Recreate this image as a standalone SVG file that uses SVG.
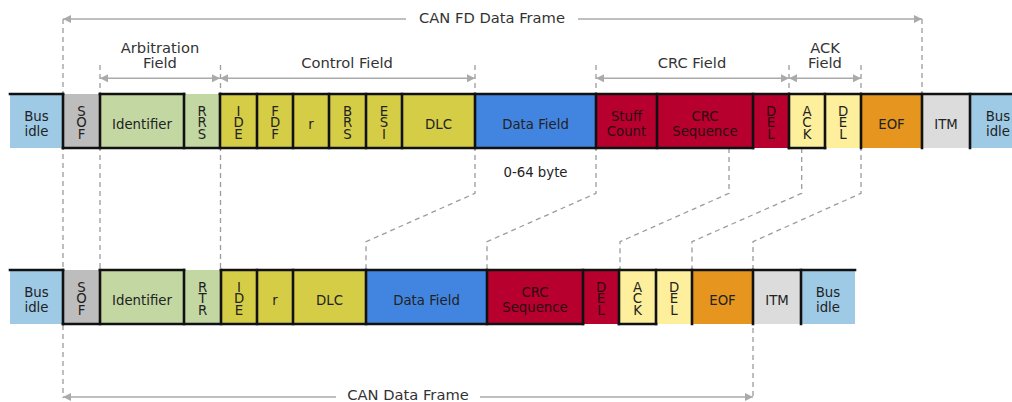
<svg xmlns="http://www.w3.org/2000/svg" width="1012" height="402" viewBox="0 0 1012 402">
<defs>
<style>
text{font-family:"DejaVu Sans",Verdana,sans-serif;text-anchor:middle}
.l{font-size:13.3px;fill:#222}
.lr{font-size:13.3px;fill:#2b0a10}
.v{writing-mode:vertical-rl;text-orientation:upright;letter-spacing:-3.8px}
.t{font-size:14.7px;fill:#333}
.wave{stroke:#111;stroke-width:2.6;fill:none;stroke-linecap:square}
.dash{stroke:#9c9c9c;stroke-width:1.3;stroke-dasharray:5 4;fill:none}
.dim{stroke:#aaa;stroke-width:1.6;fill:none}
.bus{fill:#9fcae6}.sof{fill:#bdbdbd}.arb{fill:#c2d7a2}.ctl{fill:#d4cd45}
.dat{fill:#4285e0}.crc{fill:#b8002f}.ack{fill:#fdef9c}.eof{fill:#e6961e}.itm{fill:#dcdcdc}
</style>
<marker id="ah" viewBox="0 0 10 10" refX="10" refY="5" markerWidth="9" markerHeight="8" markerUnits="userSpaceOnUse" orient="auto-start-reverse">
<path d="M0,0 L10,5 L0,10 z" fill="#aaa"/>
</marker>
</defs>
<rect width="1012" height="402" fill="#fff"/>

<g id="connectors">
<path class="dash" d="M63,19 V398"/>
<path class="dash" d="M922,19 V94"/>
<path class="dash" d="M100,65 V270"/>
<path class="dash" d="M220.5,65 V270"/>
<path class="dash" d="M475,65 V193.3 L366,241.7 V270"/>
<path class="dash" d="M596,65 V193.3 L487,241.7 V270"/>
<path class="dash" d="M789,65 V94"/>
<path class="dash" d="M861,65 V193.3 L753,241.7 V398"/>
<path class="dash" d="M729,148 V193.3 L620,241.7 V270"/>
<path class="dash" d="M801.7,148 V193.3 L692,241.7 V270"/>
<line class="dim" x1="406" y1="19" x2="63" y2="19" marker-end="url(#ah)"/>
<line class="dim" x1="578" y1="19" x2="922" y2="19" marker-end="url(#ah)"/>
<line class="dim" x1="100" y1="78.3" x2="220" y2="78.3" marker-start="url(#ah)" marker-end="url(#ah)"/>
<line class="dim" x1="220" y1="78.3" x2="475" y2="78.3" marker-start="url(#ah)" marker-end="url(#ah)"/>
<line class="dim" x1="596" y1="78.3" x2="789" y2="78.3" marker-start="url(#ah)" marker-end="url(#ah)"/>
<line class="dim" x1="789" y1="78.3" x2="861" y2="78.3" marker-start="url(#ah)" marker-end="url(#ah)"/>
<line class="dim" x1="336" y1="397" x2="63" y2="397" marker-end="url(#ah)"/>
<line class="dim" x1="480" y1="397" x2="753" y2="397" marker-end="url(#ah)"/>
</g>

<g id="labels">
<text class="t" x="492" y="23">CAN FD Data Frame</text>
<text class="t" x="160" y="52.5">Arbitration</text>
<text class="t" x="160" y="68">Field</text>
<text class="t" x="347" y="68">Control Field</text>
<text class="t" x="692" y="68">CRC Field</text>
<text class="t" x="825" y="52.5">ACK</text>
<text class="t" x="825" y="68">Field</text>
<text class="l" x="535.5" y="176.5">0-64 byte</text>
<text class="t" x="408" y="400">CAN Data Frame</text>
</g>

<g id="fd-bus-idle-1"><rect class="bus" x="10" y="94" width="53" height="54"/><text class="l" x="36.5" y="121">Bus</text><text class="l" x="36.5" y="135.5">idle</text></g>
<g id="fd-sof"><rect class="sof" x="63" y="94" width="37" height="54"/><text class="l v" x="81.5" y="121">SOF</text></g>
<g id="fd-identifier"><rect class="arb" x="100" y="94" width="84" height="54"/><text class="l" x="142" y="128.5">Identifier</text></g>
<g id="fd-rrs"><rect class="arb" x="184" y="94" width="36" height="54"/><text class="l v" x="202" y="121">RRS</text></g>
<g id="fd-ide"><rect class="ctl" x="220" y="94" width="37" height="54"/><text class="l v" x="238.5" y="121">IDE</text></g>
<g id="fd-fdf"><rect class="ctl" x="257" y="94" width="36" height="54"/><text class="l v" x="275" y="121">FDF</text></g>
<g id="fd-r"><rect class="ctl" x="293" y="94" width="36" height="54"/><text class="l" x="311" y="128.5">r</text></g>
<g id="fd-brs"><rect class="ctl" x="329" y="94" width="37" height="54"/><text class="l v" x="347.5" y="121">BRS</text></g>
<g id="fd-esi"><rect class="ctl" x="366" y="94" width="36" height="54"/><text class="l v" x="384" y="121">ESI</text></g>
<g id="fd-dlc"><rect class="ctl" x="402" y="94" width="73" height="54"/><text class="l" x="438.5" y="128.5">DLC</text></g>
<g id="fd-data"><rect class="dat" x="475" y="94" width="121" height="54"/><text class="l" x="535.5" y="128.5">Data Field</text></g>
<g id="fd-stuff"><rect class="crc" x="596" y="94" width="61" height="54"/><text class="lr" x="626.5" y="121">Stuff</text><text class="lr" x="626.5" y="135.5">Count</text></g>
<g id="fd-crc"><rect class="crc" x="657" y="94" width="96" height="54"/><text class="lr" x="705" y="121">CRC</text><text class="lr" x="705" y="135.5">Sequence</text></g>
<g id="fd-crc-del"><rect class="crc" x="753" y="94" width="36" height="54"/><text class="lr v" x="771" y="121">DEL</text></g>
<g id="fd-ack"><rect class="ack" x="789" y="94" width="36" height="54"/><text class="l v" x="807" y="121">ACK</text></g>
<g id="fd-ack-del"><rect class="ack" x="825" y="94" width="36" height="54"/><text class="l v" x="843" y="121">DEL</text></g>
<g id="fd-eof"><rect class="eof" x="861" y="94" width="61" height="54"/><text class="l" x="891.5" y="128.5">EOF</text></g>
<g id="fd-itm"><rect class="itm" x="922" y="94" width="48" height="54"/><text class="l" x="946" y="128.5">ITM</text></g>
<g id="fd-bus-idle-2"><rect class="bus" x="970" y="94" width="42" height="54"/><text class="l" x="998" y="121">Bus</text><text class="l" x="998" y="135.5">idle</text></g>

<g id="can-bus-idle-1"><rect class="bus" x="10" y="270" width="53" height="54"/><text class="l" x="36.5" y="297">Bus</text><text class="l" x="36.5" y="311.5">idle</text></g>
<g id="can-sof"><rect class="sof" x="63" y="270" width="37" height="54"/><text class="l v" x="81.5" y="297">SOF</text></g>
<g id="can-identifier"><rect class="arb" x="100" y="270" width="84" height="54"/><text class="l" x="142" y="304.5">Identifier</text></g>
<g id="can-rtr"><rect class="arb" x="184" y="270" width="37" height="54"/><text class="l v" x="202.5" y="297">RTR</text></g>
<g id="can-ide"><rect class="ctl" x="221" y="270" width="36" height="54"/><text class="l v" x="239" y="297">IDE</text></g>
<g id="can-r"><rect class="ctl" x="257" y="270" width="36" height="54"/><text class="l" x="275" y="304.5">r</text></g>
<g id="can-dlc"><rect class="ctl" x="293" y="270" width="73" height="54"/><text class="l" x="329.5" y="304.5">DLC</text></g>
<g id="can-data"><rect class="dat" x="366" y="270" width="121" height="54"/><text class="l" x="426.5" y="304.5">Data Field</text></g>
<g id="can-crc"><rect class="crc" x="487" y="270" width="96" height="54"/><text class="lr" x="535" y="297">CRC</text><text class="lr" x="535" y="311.5">Sequence</text></g>
<g id="can-crc-del"><rect class="crc" x="583" y="270" width="36" height="54"/><text class="lr v" x="601" y="297">DEL</text></g>
<g id="can-ack"><rect class="ack" x="619" y="270" width="37" height="54"/><text class="l v" x="637.5" y="297">ACK</text></g>
<g id="can-ack-del"><rect class="ack" x="656" y="270" width="36" height="54"/><text class="l v" x="674" y="297">DEL</text></g>
<g id="can-eof"><rect class="eof" x="692" y="270" width="61" height="54"/><text class="l" x="722.5" y="304.5">EOF</text></g>
<g id="can-itm"><rect class="itm" x="753" y="270" width="48" height="54"/><text class="l" x="777" y="304.5">ITM</text></g>
<g id="can-bus-idle-2"><rect class="bus" x="801" y="270" width="54" height="54"/><text class="l" x="828" y="297">Bus</text><text class="l" x="828" y="311.5">idle</text></g>

<g id="signal">
<path class="wave" d="M10,94 H63 M100,94 H184 M220,94 H1012 M63,148 H753 M789,148 H825"/>
<path class="wave" d="M63,94 V148 M100,94 V148 M184,94 V148 M220,94 V148 M257,94 V148 M293,94 V148 M329,94 V148 M366,94 V148 M402,94 V148 M475,94 V148 M596,94 V148 M657,94 V148 M753,94 V148 M789,94 V148 M825,94 V148 M861,94 V148 M922,94 V148 M970,94 V148"/>
<path class="wave" d="M10,270 H63 M100,270 H184 M221,270 H855 M63,324 H583 M619,324 H656"/>
<path class="wave" d="M63,270 V324 M100,270 V324 M184,270 V324 M221,270 V324 M257,270 V324 M293,270 V324 M366,270 V324 M487,270 V324 M583,270 V324 M619,270 V324 M656,270 V324 M692,270 V324 M753,270 V324 M801,270 V324"/>
</g>
</svg>
